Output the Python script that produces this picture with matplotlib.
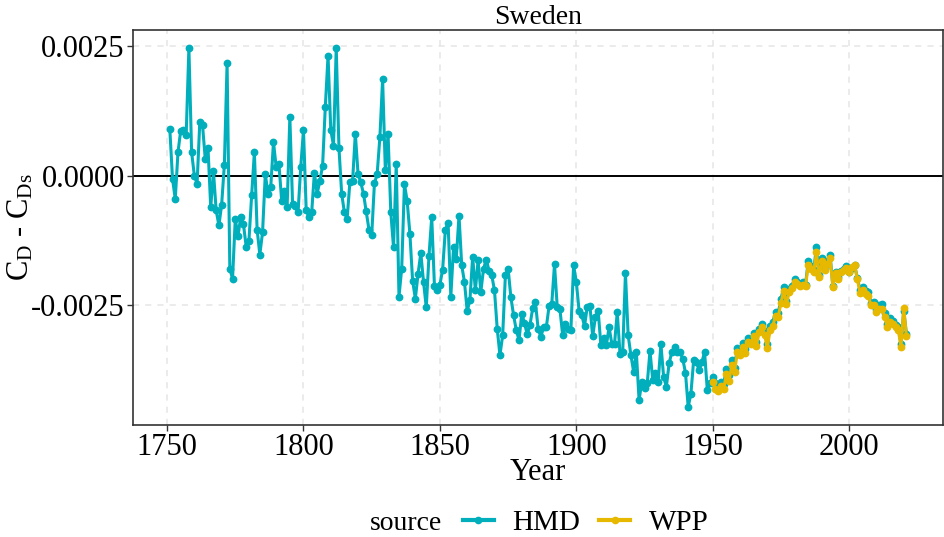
import matplotlib
matplotlib.use('Agg')
import matplotlib.pyplot as plt
from matplotlib.lines import Line2D
import numpy as np

plt.rcParams['font.family'] = ['Liberation Serif', 'DejaVu Serif']
plt.rcParams['mathtext.fontset'] = 'custom'
plt.rcParams['mathtext.rm'] = 'Liberation Serif'
plt.rcParams['mathtext.it'] = 'Liberation Serif:italic'

# 데이터
hmd_years = list(range(1751, 2022))
hmd_values = [
    0.00090, -0.00006, -0.00045, 0.00045, 0.00087, 0.00088, 0.00078, 0.00246, 0.00045, 0.00000,  # 1751-1760
    -0.00016, 0.00104, 0.00097, 0.00032, 0.00054, -0.00061, 0.00008, -0.00067, -0.00096, -0.00056,
    0.00021, 0.00217, -0.00179, -0.00199, -0.00083, -0.00117, -0.00079, -0.00094, -0.00137, -0.00126,
    -0.00038, 0.00045, -0.00104, -0.00152, -0.00109, 0.00003, -0.00035, -0.00022, 0.00065, 0.00016,
    0.00022, -0.00048, -0.00029, -0.00061, 0.00113, -0.00054, -0.00058, -0.00071, 0.00017, 0.00088,
    -0.00067, -0.00080, -0.00071, 0.00006, -0.00035, -0.00010, 0.00019, 0.00133, 0.00231, 0.00088,  # 1801-1810
    0.00058, 0.00246, 0.00053, -0.00035, -0.00071, -0.00083, -0.00013, -0.00010, 0.00081, 0.00003,
    -0.00013, -0.00035, -0.00069, -0.00104, -0.00115, -0.00015, 0.00003, 0.00074, 0.00186, 0.00010,
    0.00080, -0.00071, -0.00138, 0.00022, -0.00233, -0.00179, -0.00016, -0.00049, -0.00112, -0.00203,
    -0.00237, -0.00189, -0.00149, -0.00205, -0.00254, -0.00154, -0.00080, -0.00213, -0.00221, -0.00210,
    -0.00181, -0.00104, -0.00092, -0.00233, -0.00138, -0.00160, -0.00077, -0.00173, -0.00205, -0.00261,  # 1851-1860
    -0.00240, -0.00156, -0.00221, -0.00163, -0.00224, -0.00179, -0.00162, -0.00183, -0.00192, -0.00221,
    -0.00295, -0.00346, -0.00308, -0.00192, -0.00179, -0.00234, -0.00269, -0.00298, -0.00317, -0.00266,
    -0.00284, -0.00306, -0.00288, -0.00256, -0.00244, -0.00295, -0.00311, -0.00292, -0.00292, -0.00252,
    -0.00247, -0.00171, -0.00253, -0.00258, -0.00308, -0.00285, -0.00295, -0.00298, -0.00173, -0.00205,
    -0.00260, -0.00269, -0.00290, -0.00253, -0.00252, -0.00310, -0.00272, -0.00260, -0.00327, -0.00312,  # 1901-1910
    -0.00327, -0.00292, -0.00324, -0.00324, -0.00263, -0.00343, -0.00340, -0.00188, -0.00308, -0.00346,
    -0.00378, -0.00340, -0.00433, -0.00397, -0.00410, -0.00400, -0.00338, -0.00394, -0.00380, -0.00397,
    -0.00325, -0.00388, -0.00407, -0.00362, -0.00340, -0.00330, -0.00340, -0.00340, -0.00353, -0.00380,
    -0.00446, -0.00420, -0.00356, -0.00360, -0.00375, -0.00360, -0.00340, -0.00413, -0.00400, -0.00388,
    -0.00400, -0.00405, -0.00398, -0.00402, -0.00372, -0.00385, -0.00355, -0.00370, -0.00332, -0.00338,  # 1951-1960
    -0.00322, -0.00335, -0.00312, -0.00318, -0.00303, -0.00320, -0.00295, -0.00286, -0.00300, -0.00325,
    -0.00290, -0.00283, -0.00262, -0.00265, -0.00238, -0.00215, -0.00242, -0.00218, -0.00212, -0.00200,
    -0.00205, -0.00208, -0.00205, -0.00210, -0.00165, -0.00175, -0.00182, -0.00138, -0.00192, -0.00158,
    -0.00178, -0.00165, -0.00152, -0.00212, -0.00185, -0.00195, -0.00183, -0.00180, -0.00175, -0.00185,
    -0.00178, -0.00172, -0.00198, -0.00220, -0.00215, -0.00222, -0.00225, -0.00245, -0.00243, -0.00258,  # 2001-2010
    -0.00250, -0.00248, -0.00265, -0.00285, -0.00275, -0.00280, -0.00288, -0.00292, -0.00325, -0.00260,
    -0.00305,
]

wpp_years = list(range(1950, 2022))
wpp_values = [
    -0.00397,  # 1950
    -0.00412, -0.00415, -0.00405, -0.00412, -0.00382, -0.00395, -0.00365, -0.00378, -0.00340, -0.00345,
    -0.00330, -0.00342, -0.00320, -0.00325, -0.00310, -0.00328, -0.00302, -0.00292, -0.00308, -0.00332,
    -0.00298, -0.00290, -0.00270, -0.00272, -0.00245, -0.00222, -0.00248, -0.00224, -0.00216, -0.00205,
    -0.00208, -0.00212, -0.00210, -0.00213, -0.00172, -0.00180, -0.00186, -0.00148, -0.00196, -0.00164,
    -0.00182, -0.00170, -0.00158, -0.00214, -0.00188, -0.00200, -0.00185, -0.00182, -0.00178, -0.00186,
    -0.00176, -0.00172, -0.00200, -0.00226, -0.00220, -0.00228, -0.00232, -0.00250, -0.00250, -0.00262,
    -0.00258, -0.00258, -0.00272, -0.00292, -0.00282, -0.00285, -0.00292, -0.00298, -0.00330, -0.00255,
    -0.00310,
]

x_ticks = [1750, 1800, 1850, 1900, 1950, 2000]
y_ticks = [-0.0025, 0.0, 0.0025]
source_names = ['HMD', 'WPP']
source_colors = ['#00AFBB', '#E7B800']

fig = plt.figure(figsize=(9.45, 5.37), dpi=100)
ax = fig.add_axes([0.1407, 0.2086, 0.8575, 0.7354])

ax.axhline(0, color='black', linewidth=1.4, zorder=2)

series = [(hmd_years, hmd_values), (wpp_years, wpp_values)]
for (xs, ys), name, col in zip(series, source_names, source_colors):
    ax.plot(xs, ys, color=col, linewidth=2.2, marker='o', markersize=4.6,
            label=name, zorder=3)
# end for

ax.margins(x=0.05, y=0.05)
ax.set_xticks(x_ticks)
ax.set_yticks(y_ticks)
ax.set_yticklabels([f'{v:.4f}' for v in y_ticks])
ax.grid(True, color='#E5E5E5', linestyle=(0, (4, 4)), linewidth=1.1)
ax.set_axisbelow(True)
ax.tick_params(axis='both', labelsize=22, length=4, width=1, color='#333333',
               labelcolor='black', pad=2)
for sp in ax.spines.values():
    sp.set_color('#333333')
    sp.set_linewidth(1.2)
# end for

ax.set_title('Sweden', fontsize=20, pad=2)
ax.set_xlabel('Year', fontsize=22, labelpad=-3)
ax.set_ylabel(r'$\mathrm{C_D}$ - $\mathrm{C_{Ds}}$', fontsize=22, labelpad=-3)

# 범례 (하단, 가로 배치)
handles = [Line2D([], [], color=c, linewidth=3, marker='o', markersize=4.5)
           for c in source_colors]
fig.text(370 / 945, 1 - 523 / 537, 'source', fontsize=20, ha='left', va='center')
fig.legend(handles, source_names, loc='center left',
           bbox_to_anchor=(463 / 945, 1 - 523 / 537), ncol=2, frameon=False,
           fontsize=21, handlelength=1.05, handletextpad=0.65, columnspacing=0.65,
           borderpad=0, borderaxespad=0)

fig.savefig('out.png', dpi=100)
